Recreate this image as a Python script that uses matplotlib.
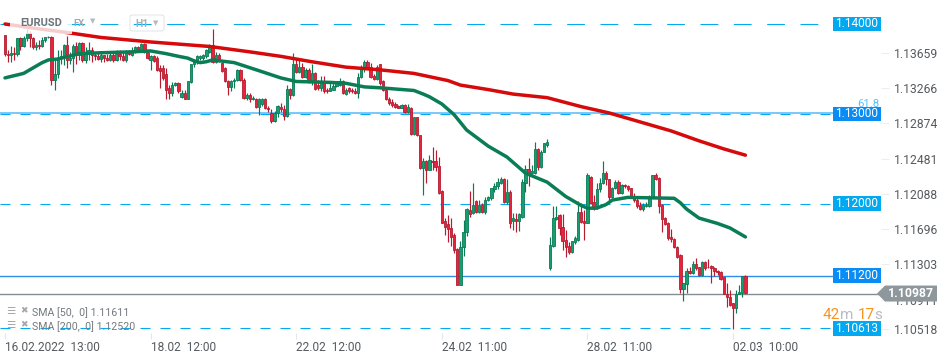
import matplotlib
matplotlib.use('Agg')
import matplotlib.pyplot as plt
from matplotlib.patches import Rectangle, Polygon, FancyBboxPatch

plt.rcParams['font.family'] = ['Roboto', 'DejaVu Sans']

# Hourly candles
opens = [
    1.1388,1.1367,1.1366,1.1368,1.1367,1.1384,1.1376,1.1384,1.1390,1.1384,
    1.1374,1.1377,1.1375,1.1382,1.1385,1.1386,1.1338,1.1344,1.1362,1.1364,
    1.1377,1.1360,1.1362,1.1376,1.1366,1.1379,1.1360,1.1369,1.1371,1.1366,
    1.1364,1.1361,1.1365,1.1362,1.1360,1.1365,1.1360,1.1367,1.1364,1.1360,
    1.1369,1.1366,1.1369,1.1374,1.1371,1.1378,1.1369,1.1360,1.1364,1.1362,
    1.1351,1.1351,1.1344,1.1329,1.1323,1.1332,1.1334,1.1319,1.1323,1.1317,
    1.1335,1.1355,1.1358,1.1362,1.1362,1.1364,1.1369,1.1377,1.1358,1.1366,
    1.1357,1.1351,1.1336,1.1330,1.1336,1.1338,1.1349,1.1338,1.1318,1.1321,
    1.1316,1.1317,1.1308,1.1311,1.1317,1.1307,1.1301,1.1292,1.1301,1.1308,
    1.1305,1.1298,1.1328,1.1321,1.1355,1.1347,1.1352,1.1341,1.1349,1.1337,
    1.1346,1.1332,1.1329,1.1336,1.1327,1.1325,1.1326,1.1331,1.1332,1.1337,
    1.1322,1.1329,1.1327,1.1325,1.1323,1.1341,1.1350,1.1358,1.1352,1.1342,
    1.1339,1.1355,1.1336,1.1327,1.1317,1.1313,1.1311,1.1309,1.1307,1.1310,
    1.1302,1.1307,1.1278,1.1296,1.1276,1.1240,1.1248,1.1238,1.1248,1.1247,
    1.1242,1.1214,1.1181,1.1177,1.1173,1.1165,1.1150,1.1110,1.1152,1.1168,
    1.1193,1.1190,1.1203,1.1191,1.1199,1.1191,1.1204,1.1206,1.1216,1.1220,
    1.1223,1.1228,1.1202,1.1213,1.1181,1.1183,1.1181,1.1185,1.1223,1.1239,
    1.1234,1.1234,1.1261,1.1241,1.1258,1.1265,1.1128,1.1153,1.1183,1.1187,
    1.1174,1.1160,1.1153,1.1146,1.1157,1.1160,1.1191,1.1181,1.1179,1.1230,
    1.1202,1.1195,1.1216,1.1223,1.1234,1.1227,1.1207,1.1218,1.1224,1.1212,
    1.1221,1.1220,1.1217,1.1208,1.1204,1.1198,1.1194,1.1197,1.1197,1.1207,
    1.1232,1.1229,1.1199,1.1184,1.1178,1.1163,1.1161,1.1152,1.1143,1.1105,
    1.1111,1.1125,1.1123,1.1133,1.1129,1.1121,1.1135,1.1130,1.1131,1.1128,
    1.1125,1.1124,1.1118,1.1100,1.1096,1.1089,1.1084,1.1100,1.1101,1.1120,
]
closes = [
    1.1367,1.1366,1.1368,1.1367,1.1384,1.1376,1.1384,1.1390,1.1384,1.1374,
    1.1377,1.1375,1.1382,1.1385,1.1386,1.1338,1.1344,1.1362,1.1364,1.1377,
    1.1360,1.1362,1.1376,1.1366,1.1379,1.1360,1.1369,1.1371,1.1366,1.1364,
    1.1361,1.1365,1.1362,1.1360,1.1365,1.1360,1.1367,1.1364,1.1360,1.1369,
    1.1367,1.1370,1.1374,1.1372,1.1378,1.1369,1.1362,1.1364,1.1359,1.1349,
    1.1348,1.1340,1.1326,1.1323,1.1332,1.1334,1.1325,1.1323,1.1317,1.1336,
    1.1355,1.1360,1.1364,1.1364,1.1366,1.1371,1.1375,1.1358,1.1366,1.1360,
    1.1348,1.1336,1.1330,1.1336,1.1338,1.1349,1.1338,1.1318,1.1321,1.1316,
    1.1318,1.1308,1.1316,1.1317,1.1306,1.1305,1.1292,1.1301,1.1309,1.1305,
    1.1298,1.1328,1.1321,1.1355,1.1347,1.1352,1.1341,1.1349,1.1337,1.1346,
    1.1328,1.1329,1.1336,1.1325,1.1325,1.1329,1.1331,1.1335,1.1337,1.1323,
    1.1327,1.1325,1.1325,1.1323,1.1341,1.1350,1.1358,1.1352,1.1341,1.1339,
    1.1352,1.1334,1.1326,1.1316,1.1312,1.1310,1.1308,1.1307,1.1310,1.1302,
    1.1308,1.1278,1.1296,1.1276,1.1240,1.1247,1.1238,1.1249,1.1246,1.1241,
    1.1212,1.1179,1.1174,1.1172,1.1163,1.1148,1.1110,1.1152,1.1168,1.1194,
    1.1189,1.1199,1.1191,1.1199,1.1191,1.1204,1.1207,1.1217,1.1220,1.1224,
    1.1228,1.1202,1.1213,1.1179,1.1184,1.1181,1.1188,1.1224,1.1239,1.1234,
    1.1236,1.1261,1.1241,1.1258,1.1267,1.1269,1.1154,1.1184,1.1185,1.1173,
    1.1158,1.1152,1.1146,1.1158,1.1162,1.1191,1.1180,1.1178,1.1232,1.1201,
    1.1195,1.1216,1.1223,1.1234,1.1227,1.1207,1.1218,1.1224,1.1212,1.1221,
    1.1220,1.1216,1.1208,1.1204,1.1197,1.1194,1.1199,1.1199,1.1207,1.1232,
    1.1227,1.1197,1.1183,1.1177,1.1162,1.1161,1.1152,1.1141,1.1105,1.1112,
    1.1125,1.1123,1.1133,1.1128,1.1121,1.1135,1.1128,1.1129,1.1128,1.1125,
    1.1124,1.1116,1.1100,1.1096,1.1087,1.1084,1.1100,1.1102,1.1120,1.1101,
]
highs = [
    1.1388,1.1371,1.1376,1.1374,1.1384,1.1385,1.1387,1.1394,1.1392,1.1385,
    1.1380,1.1382,1.1385,1.1386,1.1387,1.1387,1.1360,1.1371,1.1371,1.1378,
    1.1387,1.1369,1.1378,1.1380,1.1380,1.1380,1.1374,1.1380,1.1374,1.1369,
    1.1368,1.1368,1.1366,1.1367,1.1369,1.1369,1.1371,1.1371,1.1369,1.1371,
    1.1371,1.1374,1.1375,1.1376,1.1379,1.1379,1.1371,1.1365,1.1365,1.1364,
    1.1354,1.1354,1.1351,1.1332,1.1335,1.1335,1.1335,1.1326,1.1327,1.1337,
    1.1356,1.1361,1.1366,1.1365,1.1367,1.1372,1.1378,1.1394,1.1369,1.1368,
    1.1358,1.1352,1.1338,1.1338,1.1340,1.1350,1.1350,1.1340,1.1323,1.1323,
    1.1320,1.1318,1.1318,1.1318,1.1318,1.1309,1.1305,1.1303,1.1310,1.1312,
    1.1310,1.1332,1.1329,1.1368,1.1362,1.1360,1.1357,1.1351,1.1351,1.1356,
    1.1347,1.1338,1.1342,1.1342,1.1329,1.1334,1.1335,1.1337,1.1340,1.1338,
    1.1329,1.1330,1.1329,1.1329,1.1345,1.1354,1.1360,1.1360,1.1357,1.1344,
    1.1354,1.1356,1.1338,1.1329,1.1319,1.1316,1.1313,1.1310,1.1311,1.1311,
    1.1311,1.1308,1.1297,1.1297,1.1277,1.1251,1.1249,1.1254,1.1263,1.1260,
    1.1252,1.1215,1.1184,1.1187,1.1184,1.1167,1.1151,1.1159,1.1182,1.1195,
    1.1214,1.1223,1.1204,1.1204,1.1201,1.1207,1.1208,1.1218,1.1223,1.1229,
    1.1230,1.1229,1.1227,1.1215,1.1190,1.1190,1.1190,1.1227,1.1243,1.1251,
    1.1243,1.1269,1.1262,1.1260,1.1268,1.1272,1.1163,1.1197,1.1197,1.1189,
    1.1188,1.1171,1.1157,1.1159,1.1164,1.1203,1.1201,1.1193,1.1234,1.1231,
    1.1210,1.1223,1.1229,1.1247,1.1236,1.1228,1.1219,1.1226,1.1226,1.1222,
    1.1222,1.1221,1.1218,1.1212,1.1206,1.1202,1.1201,1.1202,1.1210,1.1232,
    1.1234,1.1230,1.1200,1.1185,1.1180,1.1172,1.1162,1.1153,1.1144,1.1112,
    1.1128,1.1129,1.1136,1.1140,1.1130,1.1136,1.1136,1.1138,1.1132,1.1130,
    1.1126,1.1125,1.1118,1.1112,1.1104,1.1090,1.1104,1.1109,1.1120,1.1121,
]
lows = [
    1.1364,1.1358,1.1358,1.1360,1.1364,1.1371,1.1374,1.1381,1.1374,1.1372,
    1.1371,1.1372,1.1374,1.1380,1.1384,1.1332,1.1327,1.1340,1.1355,1.1354,
    1.1351,1.1355,1.1347,1.1355,1.1360,1.1358,1.1357,1.1360,1.1358,1.1360,
    1.1360,1.1358,1.1358,1.1359,1.1359,1.1358,1.1359,1.1360,1.1359,1.1358,
    1.1365,1.1364,1.1368,1.1370,1.1370,1.1368,1.1361,1.1349,1.1358,1.1348,
    1.1329,1.1338,1.1316,1.1316,1.1320,1.1331,1.1323,1.1318,1.1316,1.1316,
    1.1334,1.1352,1.1356,1.1360,1.1360,1.1362,1.1368,1.1357,1.1357,1.1358,
    1.1347,1.1335,1.1321,1.1325,1.1329,1.1336,1.1336,1.1317,1.1315,1.1313,
    1.1315,1.1307,1.1299,1.1309,1.1305,1.1302,1.1290,1.1291,1.1297,1.1302,
    1.1293,1.1297,1.1316,1.1320,1.1346,1.1346,1.1340,1.1340,1.1334,1.1332,
    1.1327,1.1327,1.1325,1.1323,1.1323,1.1325,1.1326,1.1330,1.1331,1.1322,
    1.1321,1.1323,1.1323,1.1322,1.1318,1.1340,1.1347,1.1351,1.1340,1.1338,
    1.1338,1.1332,1.1325,1.1315,1.1310,1.1308,1.1306,1.1306,1.1306,1.1301,
    1.1301,1.1277,1.1277,1.1275,1.1239,1.1210,1.1223,1.1237,1.1238,1.1236,
    1.1211,1.1178,1.1165,1.1157,1.1153,1.1145,1.1109,1.1109,1.1142,1.1164,
    1.1185,1.1189,1.1190,1.1190,1.1190,1.1189,1.1203,1.1204,1.1213,1.1216,
    1.1222,1.1201,1.1200,1.1173,1.1171,1.1169,1.1170,1.1184,1.1213,1.1220,
    1.1233,1.1233,1.1237,1.1240,1.1257,1.1263,1.1126,1.1152,1.1182,1.1165,
    1.1149,1.1141,1.1144,1.1145,1.1155,1.1159,1.1178,1.1160,1.1178,1.1200,
    1.1193,1.1194,1.1213,1.1222,1.1221,1.1204,1.1206,1.1216,1.1211,1.1211,
    1.1218,1.1214,1.1207,1.1202,1.1195,1.1193,1.1192,1.1196,1.1196,1.1206,
    1.1226,1.1190,1.1169,1.1176,1.1160,1.1157,1.1151,1.1140,1.1101,1.1092,
    1.1101,1.1122,1.1122,1.1126,1.1120,1.1120,1.1126,1.1128,1.1112,1.1120,
    1.1121,1.1115,1.1099,1.1085,1.1086,1.1061,1.1078,1.1099,1.1096,1.1100,
]

# Moving averages, sampled at some candles
sma50_idx = [0,6,12,14,17,24,31,41,47,52,56,59,61,63,65,67,74,82,89,94,105,110,116,121,
             132,135,137,141,143,145,149,156,162,166,168,175,181,186,188,191,194,196,201,216,218,220,224,230,234,239]
sma50_val = [1.1340,1.1345,1.1357,1.1360,1.1361,1.1367,1.1368,1.1369,1.1370,1.1367,1.1364,1.1362,
             1.1359,1.1357,1.1358,1.1360,1.1357,1.1348,1.1340,1.1336,1.1335,1.1334,1.1330,1.1329,
             1.1326,1.1322,1.1319,1.1311,1.1305,1.1299,1.1282,1.1264,1.1252,1.1240,1.1234,1.1224,
             1.1208,1.1198,1.1195,1.1195,1.1199,1.1204,1.1207,1.1206,1.1201,1.1194,1.1184,1.1178,1.1173,1.1163]
sma200_idx = [0,8,21,31,47,66,79,89,99,110,121,132,143,147,156,164,175,186,195,205,215,224,232,239]
sma200_val = [1.1400,1.1396,1.1390,1.1385,1.1380,1.1375,1.1369,1.1364,1.1358,1.1352,1.1349,1.1345,
              1.1337,1.1332,1.1327,1.1322,1.1318,1.1308,1.1301,1.1291,1.1281,1.1270,1.1261,1.1254]

level_dashed = [1.14000, 1.13000, 1.12000, 1.10613]
level_solid = [1.11200]
fib_level = 1.13012
last_price = 1.11000     # where the price line sits on this scale
last_label = '1.10987'

ytick_labels = ['1.13659','1.13266','1.12874','1.12481','1.12088','1.11696','1.11303','1.10911','1.10518']
ytick_pos = [1.13680,1.13287,1.12895,1.12502,1.12109,1.11717,1.11324,1.10932,1.10605]
xtick_idx = [0, 47, 94, 141, 188, 235]
xtick_labels = ['16.02.2022  13:00','18.02  12:00','22.02  12:00','24.02  11:00','28.02  11:00','02.03  10:00']

GREEN_BODY, GREEN_EDGE = '#179e70', '#0b7a55'
RED_BODY, RED_EDGE = '#e8243c', '#b51c30'
BLUE_LIGHT, BLUE_DARK = '#02a9f1', '#0a8cf5'
PX_X, PX_Y = 3.098, 0.0001113    # size of one pixel step on each axis
Y_TOP = 1.14267


def fig_text(x, y, s, **kw):
    fig.text(x / 950, 1 - y / 360, s, va='center', **kw)


fig = plt.figure(figsize=(9.5, 3.6), dpi=100)
ax = fig.add_axes([0, 27 / 360, 881 / 950, 333 / 360])
x_left, x_right = -5 / PX_X, 876 / PX_X
box_left = 828 / PX_X
ax.set_xlim(x_left, x_right)
ax.set_ylim(Y_TOP - 333 * PX_Y, Y_TOP)

# Levels
for lv in level_dashed:
    dash = (0, (16, 14)) if lv == 1.14 else (0, (9, 9))
    ax.plot([x_left, box_left], [lv, lv], color=BLUE_LIGHT, lw=0.8, ls=dash, zorder=1)
ax.plot([x_left, box_left], [fib_level, fib_level], color='#55b8fb', lw=1.1, zorder=1)
for lv in level_solid:
    ax.plot([x_left, box_left], [lv, lv], color='#2b8fe8', lw=1.0, zorder=1)
ax.plot([x_left, x_right], [last_price, last_price], color='#858d90', lw=1.0, zorder=1)

# Candles
idx = list(range(len(closes)))
up = [c >= o for o, c in zip(opens, closes)]
wick_col = [GREEN_EDGE if u else RED_EDGE for u in up]
body_col = [GREEN_BODY if u else RED_BODY for u in up]
ax.vlines(idx, lows, highs, colors=wick_col, lw=0.85, zorder=2)
ax.bar(idx, [abs(c - o) for o, c in zip(opens, closes)],
       bottom=[min(o, c) for o, c in zip(opens, closes)],
       width=0.75, color=body_col, edgecolor=wick_col, lw=0.6, zorder=3)

# SMAs
ax.plot(sma50_idx, sma50_val, color='#0a7d55', lw=2.5, solid_capstyle='round', solid_joinstyle='round', zorder=4)
ax.plot(sma200_idx, sma200_val, color='#d60a0a', lw=2.5, solid_capstyle='round', solid_joinstyle='round', zorder=4)

# White veil under the instrument name
ax.add_patch(Rectangle((10 / PX_X - 5 / PX_X, Y_TOP - 34 * PX_Y), 62 / PX_X, 20 * PX_Y,
                       fc='white', alpha=0.8, ec='none', zorder=5))

# Boxes on the levels
for lv, col in [(1.14, BLUE_LIGHT), (1.13, BLUE_DARK), (1.12, BLUE_LIGHT), (1.112, BLUE_DARK), (1.10613, BLUE_LIGHT)]:
    h = 14.6 * PX_Y
    ax.add_patch(Rectangle((828 / PX_X, lv - h / 2), 48 / PX_X, h, fc=col, ec='none', zorder=6, clip_on=False))
    ax.text(852 / PX_X, lv, f'{lv:.5f}', color='white', fontsize=8.6, ha='center', va='center', zorder=7)
fig_text(857, 104, '61.8', color='#55c0ff', fontsize=8.2, zorder=8)

# Axes and ticks
for sp in ax.spines.values():
    sp.set_visible(False)
ax.yaxis.tick_right()
ax.set_yticks(ytick_pos)
ax.set_yticklabels(ytick_labels)
ax.tick_params(axis='y', length=6, width=0.8, color='#eeeeee', labelcolor='#555a5f', labelsize=8.7, pad=3)
ax.set_xticks(xtick_idx)
ax.set_xticklabels(xtick_labels, ha='left')
ax.tick_params(axis='x', length=4, width=0.8, color='#e6e6e6', labelcolor='#555a5f', labelsize=8.6, pad=2)
for lab in ax.get_xticklabels():
    lab.set_ha('left')

# Last price tag
ax.add_patch(Polygon([(872 / PX_X, last_price), (880 / PX_X, last_price + 8 * PX_Y),
                      (932 / PX_X, last_price + 8 * PX_Y), (932 / PX_X, last_price - 8 * PX_Y),
                      (880 / PX_X, last_price - 8 * PX_Y)], fc='#8e979b', ec='none', zorder=9, clip_on=False))
ax.text(906 / PX_X, last_price, last_label, color='white', fontsize=8.8, fontweight='bold',
        ha='center', va='center', zorder=10)

# Candle countdown
fig_text(823, 315, '42', color='#f7941d', fontsize=11)
fig_text(840, 315, 'm', color='#b9bec2', fontsize=11)
fig_text(858, 315, '17', color='#f7941d', fontsize=11)
fig_text(874, 315, 's', color='#b9bec2', fontsize=11)

# Instrument header
fig_text(20, 23, 'EURUSD', color='#6f7479', fontsize=8.0, fontweight='bold')
fig_text(73, 24, 'FX', color='#a4abb0', fontsize=6.8, fontweight='bold')
fig_text(90, 22, '▼', color='#b5babd', fontsize=5)
fig_text(135, 24, 'H1', color='#a8adb1', fontsize=7.5, fontweight='bold')
fig_text(153, 24, '▼', color='#b5babd', fontsize=5)
fig.add_artist(FancyBboxPatch((130 / 950, 1 - 31 / 360), 34 / 950, 16 / 360, transform=fig.transFigure,
                              boxstyle='round,pad=0,rounding_size=0.004', fc='none', ec='#e4e6e8', lw=0.8))

# Indicator legend
for y, s in [(313, 'SMA [50,  0] 1.11611'), (327, 'SMA [200,  0] 1.12520')]:
    fig_text(6, y - 2, '☰', color='#a4a8ab', fontsize=7.5)
    fig_text(20, y - 2, '✖', color='#a4a8ab', fontsize=6.5)
    fig_text(32, y, s, color='#74797d', fontsize=7.7)

plt.savefig('out.png', dpi=100)
